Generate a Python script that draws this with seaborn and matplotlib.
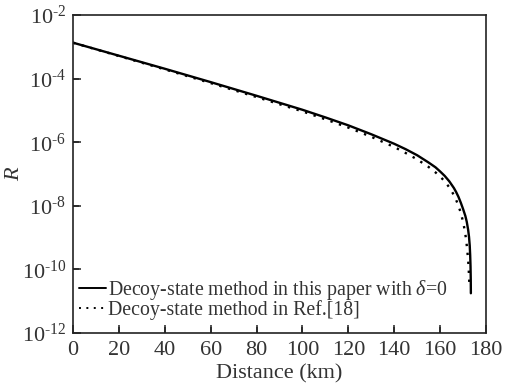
import numpy as np
import pandas as pd
import matplotlib
matplotlib.use("Agg")
import matplotlib.pyplot as plt
import seaborn as sns
from matplotlib.ticker import FuncFormatter, FixedLocator

# Data (distance in km, log10 of key rate R)
dist_paper = [0, 20, 40, 60, 80, 100, 110, 120, 130, 140, 145, 150, 155, 158, 160, 162,
              164, 166, 167, 168, 169, 170, 171, 171.6, 172.2, 172.6, 172.9, 173.1,
              173.25, 173.35, 173.4]
logR_paper = [-2.87, -3.28, -3.69, -4.11, -4.54, -4.98, -5.22, -5.47, -5.75, -6.05,
              -6.22, -6.41, -6.64, -6.79, -6.92, -7.06, -7.23, -7.44, -7.57, -7.72,
              -7.9, -8.1, -8.32, -8.5, -8.75, -8.98, -9.25, -9.55, -9.9, -10.3, -10.75]

dist_ref = [0, 20, 40, 60, 80, 100, 110, 120, 130, 140, 145, 150, 155, 158, 160, 162,
            164, 165.5, 167, 168, 169, 170, 170.8, 171.4, 171.9, 172.3, 172.6, 172.8]
logR_ref = [-2.87, -3.29, -3.71, -4.14, -4.58, -5.03, -5.28, -5.54, -5.83, -6.15,
            -6.34, -6.54, -6.78, -6.95, -7.08, -7.23, -7.42, -7.6, -7.82, -8.0,
            -8.22, -8.5, -8.8, -9.1, -9.45, -9.8, -10.2, -10.6]

label_paper = r"Decoy-state method in this paper with $\delta$=0"
label_ref = "Decoy-state method in Ref.[18]"
xticks = [0, 20, 40, 60, 80, 100, 120, 140, 160, 180]
yticks = [1e-12, 1e-10, 1e-8, 1e-6, 1e-4, 1e-2]

sns.set_style("ticks")
plt.rcParams.update({
    "font.family": ["Liberation Serif", "DejaVu Serif"],
    "mathtext.fontset": "custom",
    "mathtext.rm": "Liberation Serif",
    "mathtext.it": "Liberation Serif:italic",
    "mathtext.bf": "Liberation Serif:bold",
    "xtick.direction": "in",
    "ytick.direction": "in",
    "xtick.major.size": 6,
    "ytick.major.size": 6,
    "xtick.major.width": 1.1,
    "ytick.major.width": 1.1,
    "xtick.color": "#222222",
    "ytick.color": "#222222",
    "xtick.labelcolor": "#333333",
    "ytick.labelcolor": "#333333",
    "xtick.labelsize": 16,
    "ytick.labelsize": 16,
    "xtick.major.pad": 6,
    "ytick.major.pad": 5,
    "xtick.top": False,
    "ytick.right": False,
    "xtick.bottom": True,
    "ytick.left": True,
    "axes.axisbelow": False,
    "axes.linewidth": 1.2,
    "axes.edgecolor": "#222222",
})

df = pd.concat([
    pd.DataFrame({"Distance": dist_paper, "R": np.power(10.0, logR_paper), "Method": label_paper}),
    pd.DataFrame({"Distance": dist_ref, "R": np.power(10.0, logR_ref), "Method": label_ref}),
], ignore_index=True)

fig = plt.figure(figsize=(5.06, 3.87), dpi=100)
ax = fig.add_axes([0.1443, 0.1395, 0.8162, 0.8217])

sns.lineplot(data=df, x="Distance", y="R", hue="Method", style="Method",
             palette={label_paper: "black", label_ref: "black"},
             dashes={label_paper: "", label_ref: (1, 2.8)},
             sort=False, estimator=None, ax=ax, linewidth=1.7)

ax.set_yscale("log")
ax.set_xlim(0, 180)
ax.set_ylim(1e-12, 1e-2)
ax.xaxis.set_major_locator(FixedLocator(xticks))
ax.yaxis.set_major_locator(FixedLocator(yticks))


def log_fmt(v, pos):
    e = int(round(np.log10(v)))
    return r"$10^{\text{%d}}$" % e


ax.yaxis.set_major_formatter(FuncFormatter(log_fmt))
ax.minorticks_off()

# inward tick marks drawn at the tick positions (axis-relative length)
xtr = ax.get_xaxis_transform()
ytr = ax.get_yaxis_transform()
for xv in xticks[1:-1]:
    ax.plot([xv, xv], [0, 0.02], transform=xtr, color="#222222", lw=1.1,
            clip_on=False, solid_capstyle="butt", zorder=5)
for yv in yticks[1:-1]:
    ax.plot([0, 0.015], [yv, yv], transform=ytr, color="#222222", lw=1.1,
            clip_on=False, solid_capstyle="butt", zorder=5)

ax.set_xlabel("Distance (km)", fontsize=16, color="#333333", labelpad=3)
ax.set_ylabel("R", fontsize=16, style="italic", color="#333333")
ax.yaxis.set_label_coords(-0.118, 0.5)

handles, labels = ax.get_legend_handles_labels()
leg = ax.legend(handles[:2], labels[:2], loc="lower left", frameon=False,
                fontsize=14.3, handlelength=1.35, handletextpad=0.1,
                borderaxespad=0.0, borderpad=0.2, labelspacing=-0.1,
                bbox_to_anchor=(0.006, 0.03))
for t in leg.get_texts():
    t.set_color("#333333")
for l in leg.get_lines():
    l.set_linewidth(1.4)

fig.savefig("out.png", dpi=100)
